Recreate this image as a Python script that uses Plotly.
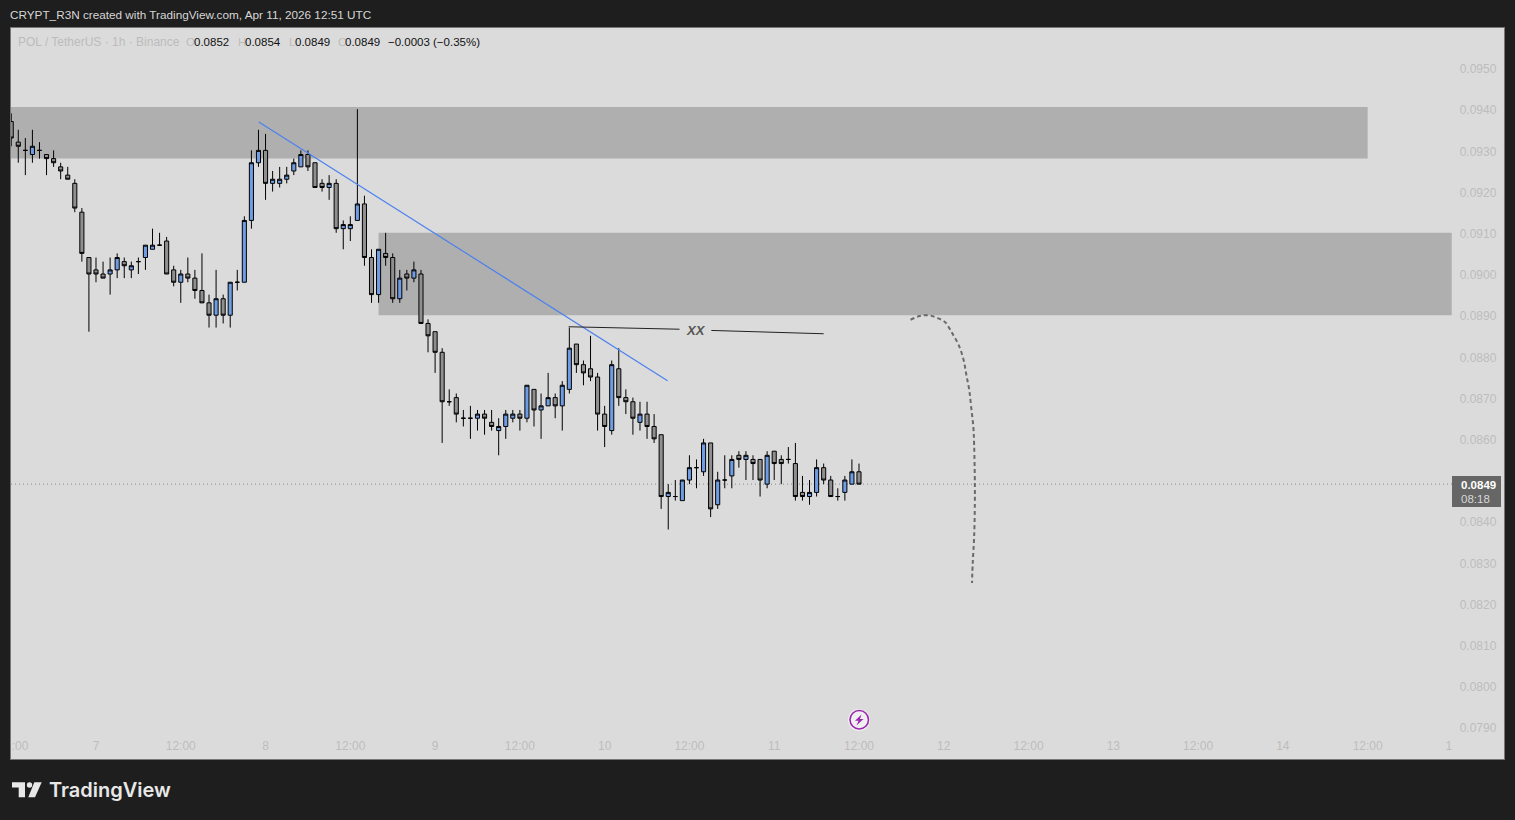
import pandas as pd
import plotly.graph_objects as go

BG = "#dbdbdb"
FRAME = "#1e1e1e"
FONT = "Liberation Sans"

# ---- candle data, one per hour ----
first_candle = "2026-04-06 12:00"
opens = [0.0937,0.0932,0.0930,0.0929,0.0930,0.0929,0.0928,0.0926,0.0924,0.0922,0.0915,0.0904,0.0901,0.0900,0.0900,0.0901,0.0903,0.0901,0.0903,0.0904,0.0906,0.0907,0.0908,0.0901,0.0898,0.0900,0.0899,0.0896,0.0893,0.0890,0.0894,0.0890,0.0898,
         0.0898,0.0913,0.0927,0.0930,0.0922,0.0922,0.0923,0.0925,0.0926,0.0929,0.0927,0.0922,0.0921,0.0922,0.0911,0.0911,0.0913,0.0917,0.0904,0.0895,0.0905,0.0904,0.0894,0.0900,0.0899,0.0900,
         0.0888,0.0886,0.0881,0.0869,0.0870,0.0865,0.0865,0.0865,0.0866,0.0864,0.0862,0.0863,0.0865,0.0866,0.0865,0.0872,0.0867,0.0868,0.0870,0.0868,0.0872,0.0883,0.0878,0.0877,0.0875,0.0866,0.0862,0.0877,0.0870,0.0869,0.0864,0.0866,0.0863,
         0.0861,0.0846,0.0846,0.0845,0.0850,0.0853,0.0852,0.0859,0.0844,0.0850,0.0851,0.0856,0.0855,0.0855,0.0855,0.0849,0.0857,0.0855,0.0855,0.0854,0.0847,0.0846,0.0847,0.0853,0.0850,0.0846,0.0847,0.0849,0.0852]
highs = [0.0939,0.0935,0.0933,0.0935,0.0932,0.0929,0.0930,0.0927,0.0926,0.0923,0.0916,0.0904,0.0904,0.0903,0.0904,0.0905,0.0904,0.0903,0.0904,0.0907,0.0911,0.0910,0.0909,0.0902,0.0901,0.0904,0.0901,0.0905,0.0895,0.0901,0.0895,0.0898,0.0901,
         0.0914,0.0930,0.0935,0.0934,0.0925,0.0926,0.0926,0.0928,0.0930,0.0930,0.0927,0.0923,0.0924,0.0923,0.0913,0.0914,0.0940,0.0919,0.0906,0.0906,0.0910,0.0905,0.0901,0.0901,0.0903,0.0901,
         0.0889,0.0886,0.0882,0.0872,0.0871,0.0867,0.0868,0.0867,0.0867,0.0867,0.0865,0.0867,0.0867,0.0867,0.0873,0.0872,0.0871,0.0876,0.0871,0.0874,0.0887,0.0883,0.0879,0.0885,0.0876,0.0868,0.0879,0.0882,0.0872,0.0870,0.0869,0.0869,0.0866,
         0.0861,0.0849,0.0850,0.0850,0.0856,0.0855,0.0860,0.0859,0.0852,0.0856,0.0856,0.0857,0.0857,0.0856,0.0855,0.0857,0.0857,0.0856,0.0858,0.0859,0.0851,0.0850,0.0855,0.0854,0.0851,0.0848,0.0851,0.0855,0.0854]
lows = [0.0931,0.0927,0.0924,0.0927,0.0928,0.0924,0.0926,0.0923,0.0923,0.0915,0.0903,0.0886,0.0898,0.0899,0.0895,0.0899,0.0899,0.0899,0.0900,0.0901,0.0906,0.0907,0.0900,0.0897,0.0893,0.0898,0.0894,0.0893,0.0887,0.0887,0.0888,0.0887,0.0896,
        0.0898,0.0911,0.0926,0.0918,0.0920,0.0921,0.0922,0.0924,0.0926,0.0925,0.0921,0.0920,0.0918,0.0910,0.0906,0.0908,0.0913,0.0902,0.0893,0.0893,0.0902,0.0893,0.0893,0.0896,0.0898,0.0888,
        0.0881,0.0876,0.0859,0.0868,0.0864,0.0863,0.0860,0.0862,0.0861,0.0862,0.0856,0.0860,0.0864,0.0862,0.0864,0.0863,0.0860,0.0868,0.0865,0.0862,0.0871,0.0876,0.0873,0.0874,0.0862,0.0858,0.0861,0.0868,0.0866,0.0861,0.0862,0.0860,0.0859,
        0.0843,0.0838,0.0845,0.0845,0.0849,0.0848,0.0851,0.0841,0.0843,0.0848,0.0848,0.0853,0.0850,0.0850,0.0846,0.0848,0.0850,0.0849,0.0854,0.0845,0.0845,0.0844,0.0846,0.0849,0.0846,0.0845,0.0845,0.0849,0.0849]
closes = [0.0933,0.0931,0.0930,0.0931,0.0930,0.0928,0.0927,0.0925,0.0923,0.0916,0.0905,0.0900,0.0900,0.0899,0.0901,0.0904,0.0902,0.0902,0.0903,0.0907,0.0907,0.0907,0.0900,0.0898,0.0900,0.0899,0.0896,0.0893,0.0890,0.0894,0.0890,0.0898,0.0898,
          0.0913,0.0927,0.0930,0.0922,0.0923,0.0923,0.0924,0.0927,0.0929,0.0926,0.0921,0.0921,0.0922,0.0911,0.0912,0.0912,0.0917,0.0904,0.0895,0.0906,0.0904,0.0894,0.0899,0.0899,0.0901,0.0888,
          0.0885,0.0881,0.0869,0.0869,0.0866,0.0865,0.0865,0.0866,0.0865,0.0863,0.0863,0.0866,0.0866,0.0865,0.0873,0.0867,0.0868,0.0870,0.0868,0.0873,0.0882,0.0878,0.0876,0.0875,0.0866,0.0863,0.0878,0.0870,0.0869,0.0865,0.0866,0.0863,0.0860,
          0.0846,0.0847,0.0846,0.0850,0.0853,0.0853,0.0859,0.0843,0.0850,0.0850,0.0855,0.0855,0.0856,0.0854,0.0850,0.0856,0.0854,0.0854,0.0855,0.0846,0.0846,0.0847,0.0853,0.0850,0.0846,0.0846,0.0850,0.0852,0.0849]

# ---- axis labels ----
y_ticks = [0.0790,0.0800,0.0810,0.0820,0.0830,0.0840,0.0860,0.0870,0.0880,0.0890,0.0900,0.0910,0.0920,0.0930,0.0940,0.0950]
x_tick_times = ["2026-04-06 13:15","2026-04-07 00:00","2026-04-07 12:00","2026-04-08 00:00","2026-04-08 12:00","2026-04-09 00:00","2026-04-09 12:00",
                "2026-04-10 00:00","2026-04-10 12:00","2026-04-11 00:00","2026-04-11 12:00","2026-04-12 00:00","2026-04-12 12:00","2026-04-13 00:00",
                "2026-04-13 12:00","2026-04-14 00:00","2026-04-14 12:00","2026-04-14 23:30"]
x_tick_labels = [":00","7","12:00","8","12:00","9","12:00","10","12:00","11","12:00","12","12:00","13","12:00","14","12:00","1"]

# ---- drawings (hours after Apr 7 00:00, price) ----
origin = pd.Timestamp("2026-04-07 00:00")
def at(hours):
    return origin + pd.Timedelta(hours=hours)

trend_hours = [23.05, 80.9]
trend_prices = [0.09369, 0.08741]
level_hours = [66.9, 82.6, None, 87.1, 103.0]
level_prices = [0.08872, 0.08866, None, 0.08863, 0.08855]
path_hours = [115.3,116.6,117.8,119.0,120.2,121.1,122.1,122.8,123.2,123.6,123.9,124.2,124.3,124.4,124.4,124.3,124.1,124.0]
path_prices = [0.08889,0.08898,0.08900,0.08894,0.08883,0.08859,0.08828,0.08792,0.08755,0.08719,0.08674,0.08626,0.08585,0.08493,0.08444,0.08362,0.08299,0.08250]
zone_upper = (-30, 180, 0.09280, 0.09405)
zone_lower = (40, 191.9, 0.08900, 0.09100)
last_price = 0.0849

times = pd.date_range(first_candle, periods=len(opens), freq="h")

fig = go.Figure()
fig.add_trace(go.Candlestick(
    x=times, open=opens, high=highs, low=lows, close=closes,
    increasing=dict(fillcolor="#6f9de3", line=dict(color="#000000", width=1)),
    decreasing=dict(fillcolor="#8f8f8f", line=dict(color="#000000", width=1)),
    whiskerwidth=0, hoverinfo="skip", showlegend=False,
))
fig.add_trace(go.Scatter(x=[at(h) for h in trend_hours], y=trend_prices, mode="lines",
                         line=dict(color="#4d80ee", width=1.2), hoverinfo="skip", showlegend=False))
fig.add_trace(go.Scatter(x=[None if h is None else at(h) for h in level_hours], y=level_prices, mode="lines",
                         line=dict(color="#222222", width=1), hoverinfo="skip", showlegend=False))
fig.add_trace(go.Scatter(x=[at(h) for h in path_hours], y=path_prices, mode="lines",
                         line=dict(color="#6a6a6a", width=2, dash="4px,3px", shape="spline"),
                         hoverinfo="skip", showlegend=False))

L, R, T, B = 11, 1504, 28, 759
def px(x):
    return (x - L) / (R - L)
def py(y):
    return (B - y) / (B - T)

def path(points, close=True):
    s = "M " + " L ".join(f"{px(a):.5f},{py(b):.5f}" for a, b in points)
    return s + (" Z" if close else "")

shapes = []
for z in (zone_upper, zone_lower):
    shapes.append(dict(type="rect", xref="x", yref="y", x0=at(z[0]), x1=at(z[1]), y0=z[2], y1=z[3],
                       fillcolor="#afafaf", line=dict(width=0), layer="below"))
shapes.append(dict(type="line", xref="paper", yref="y", x0=0, x1=px(1452), y0=last_price, y1=last_price,
                   line=dict(color="#8a8a8a", width=1, dash="1px,3px"), layer="below"))
# price tag
shapes.append(dict(type="rect", xref="paper", yref="paper", x0=px(1452), x1=px(1501), y0=py(507), y1=py(476),
                   fillcolor="#666666", line=dict(width=0), layer="above"))
# event badge
shapes.append(dict(type="circle", xref="paper", yref="paper", x0=px(848), x1=px(870), y0=py(731), y1=py(709),
                   fillcolor="#f0f0f0", line=dict(width=0), layer="above"))
shapes.append(dict(type="circle", xref="paper", yref="paper", x0=px(850), x1=px(868.5), y0=py(729), y1=py(710.5),
                   fillcolor="#f0f0f0", line=dict(color="#9c27b0", width=1.6), layer="above"))
shapes.append(dict(type="path", xref="paper", yref="paper", layer="above", fillcolor="#9c27b0", line=dict(width=0),
                   path=path([(861.5,714.5),(855,720.8),(858.5,720.8),(856.5,725.5),(863.5,719),(860,719)])))
# logo
logo_c = "#e8e8e8"
shapes.append(dict(type="path", xref="paper", yref="paper", layer="above", fillcolor=logo_c, line=dict(width=0),
                   path=path([(12,782.3),(25,782.3),(25,797.3),(18.7,797.3),(18.7,787.6),(12,787.6)])))
shapes.append(dict(type="circle", xref="paper", yref="paper", x0=px(26.8), x1=px(32.2), y0=py(787.7), y1=py(782.3),
                   fillcolor=logo_c, line=dict(width=0), layer="above"))
shapes.append(dict(type="path", xref="paper", yref="paper", layer="above", fillcolor=logo_c, line=dict(width=0),
                   path=path([(34.3,782.3),(41.7,782.3),(35,797.3),(28.3,797.3)])))

def label(text, x, y, color, size=11.5, anchor="left", **kw):
    return dict(text=text, xref="paper", yref="paper", x=px(x), y=py(y), xanchor=anchor, yanchor="middle",
                showarrow=False, font=dict(family=FONT, size=size, color=color, **kw), borderpad=0, borderwidth=0)

faint = "#bcbcbc"
ink = "#111111"
anns = [
    label("CRYPT_R3N created with TradingView.com, Apr 11, 2026 12:51 UTC", 10, 15, "#d6d6d6", 11.75),
    label("POL / TetherUS · 1h · Binance", 18, 42, faint, 12),
    label("O", 186, 42, faint), label("0.0852", 194, 42, ink),
    label("H", 238, 42, faint), label("0.0854", 245, 42, ink),
    label("L", 289, 42, faint), label("0.0849", 295, 42, ink),
    label("C", 338, 42, faint), label("0.0849", 345, 42, ink),
    label("−0.0003", 388, 42, ink), label("(−0.35%)", 433, 42, ink),
    label("XX", 696, 331, "#555555", 13, "center", weight="bold", style="italic"),
    label("0.0849", 1478, 484.5, "#ffffff", 11.5, "center", weight="bold"),
    label("08:18", 1475, 499, "#d8d8d8", 11.5, "center"),
    label("TradingView", 48.5, 790, "#e8e8e8", 20, weight=600),
]
anns[-1]["font"]["family"] = "Inter"

fig.update_layout(
    width=1515, height=820,
    margin=dict(l=L, r=1515 - R, t=T, b=820 - B, pad=0),
    paper_bgcolor=FRAME, plot_bgcolor=BG,
    boxgap=0.42, boxgroupgap=0, showlegend=False,
    font=dict(family=FONT, size=12, color="#bdbdbd"),
    shapes=shapes, annotations=anns,
    xaxis=dict(type="date",
               range=[at(-12.03), at(199.3)],
               rangeslider=dict(visible=False),
               tickmode="array", tickvals=x_tick_times, ticktext=x_tick_labels,
               ticklabelposition="inside", ticks="", ticklen=0, showgrid=False, zeroline=False,
               showline=True, linecolor="#777777", linewidth=1, mirror=True,
               tickfont=dict(family=FONT, size=12, color="#bdbdbd"), ticklabelstandoff=6),
    yaxis=dict(range=[0.07823, 0.09597], side="right",
               tickmode="array", tickvals=y_ticks, tickformat=".4f",
               ticklabelposition="inside", ticks="", ticklen=0, showgrid=False, zeroline=False,
               showline=True, linecolor="#777777", linewidth=1, mirror=True,
               tickfont=dict(family=FONT, size=12, color="#bdbdbd"), ticklabelstandoff=7, ticklabelshift=1),
)

fig.write_html("out.html", config={"displayModeBar": False},
               post_script="document.body.style.margin='0';document.body.style.background='#1e1e1e';")
